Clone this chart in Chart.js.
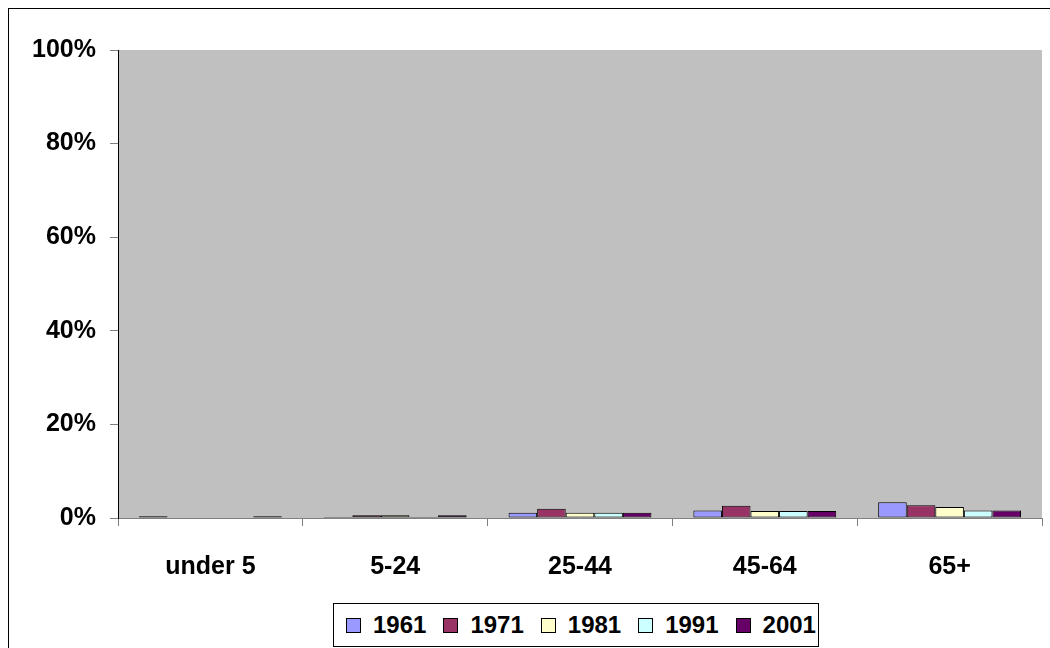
<!DOCTYPE html>
<html lang="en">
  <head>
    <meta charset="UTF-8" />
    <title>Age groups 1961-2001</title>
    <script src="https://cdn.jsdelivr.net/npm/chart.js"></script>
    <style>
      body {
        margin: 0;
        background: white;
        font-family: "Liberation Sans", Arial, sans-serif;
      }
      .wrap {
        position: relative;
        width: 1050px;
        height: 648px;
        overflow: hidden;
      }
      .frame {
        position: absolute;
        left: 8px;
        top: 8px;
        width: 1100px;
        height: 700px;
        border: 1px solid #000;
        pointer-events: none;
      }
      .legend {
        position: absolute;
        left: 333px;
        top: 603px;
        width: 486px;
        height: 44px;
        box-sizing: border-box;
        border: 1px solid #000;
        background: white;
        display: flex;
        align-items: center;
        padding-left: 12px;
        gap: 17px;
        font-weight: bold;
        font-size: 24px;
      }
      .legend-item {
        display: flex;
        align-items: center;
      }
      .legend-color {
        width: 13px;
        height: 13px;
        border: 1px solid #000;
        margin-right: 12px;
      }
    </style>
  </head>
  <body>
    <div class="wrap">
      <canvas id="barChart" width="1050" height="648"></canvas>
      <div class="frame"></div>
      <div class="legend" id="chartLegend"></div>
    </div>

    <script>
      const ageGroups = ["under 5", "5-24", "25-44", "45-64", "65+"];
      const years = ["1961", "1971", "1981", "1991", "2001"];
      const colors = ["#9999FF", "#993366", "#FFFFCC", "#CCFFFF", "#660066"];
      const yTicks = [0, 20, 40, 60, 80, 100];

      // percent per age group, one array per census year
      const v1961 = [0.4, 0.2, 1.1, 1.6, 3.35];
      const v1971 = [0, 0.6, 2.0, 2.6, 2.7];
      const v1981 = [0, 0.6, 1.1, 1.5, 2.35];
      const v1991 = [0, 0.2, 1.1, 1.5, 1.6];
      const v2001 = [0.4, 0.6, 1.1, 1.5, 1.6];
      const series = [v1961, v1971, v1981, v1991, v2001];

      const plotBg = {
        id: "plotBg",
        beforeDraw(chart) {
          const a = chart.chartArea;
          const ctx = chart.ctx;
          ctx.save();
          ctx.fillStyle = "#C0C0C0";
          ctx.fillRect(a.left, a.top, a.right - a.left, a.bottom - a.top);
          ctx.restore();
        },
      };

      const font = { family: "'Liberation Sans', Arial, sans-serif", size: 25, weight: "bold" };

      new Chart(document.getElementById("barChart"), {
        type: "bar",
        data: {
          labels: ageGroups,
          datasets: years.map((y, i) => ({
            label: y,
            data: series[i],
            backgroundColor: colors[i],
            borderColor: "#000",
            borderWidth: 1,
            borderSkipped: false,
            categoryPercentage: 0.773,
            barPercentage: 1,
          })),
        },
        options: {
          responsive: false,
          animation: false,
          layout: { padding: { top: 50, right: 8, bottom: 0, left: 0 } },
          plugins: {
            legend: { display: false },
            tooltip: { enabled: false },
          },
          scales: {
            x: {
              grid: {
                offset: true,
                drawOnChartArea: false,
                tickLength: 8,
                color: "#808080",
              },
              border: { color: "#808080" },
              ticks: { color: "#000", font: font, padding: 26 },
              afterFit(scale) {
                scale.height = 130;
              },
            },
            y: {
              min: 0,
              max: 100,
              afterBuildTicks(scale) {
                scale.ticks = yTicks.map((v) => ({ value: v }));
              },
              grid: {
                drawOnChartArea: false,
                tickLength: 8,
                color: "#808080",
              },
              border: { color: "#000" },
              ticks: {
                color: "#000",
                font: font,
                padding: 14,
                callback: (v) => v + "%",
              },
              afterFit(scale) {
                scale.width = 118;
              },
            },
          },
        },
        plugins: [plotBg],
      });

      const legendContainer = document.getElementById("chartLegend");
      years.forEach((y, i) => {
        const item = document.createElement("div");
        item.classList.add("legend-item");
        item.innerHTML = `<div class="legend-color" style="background-color: ${colors[i]};"></div>${y}`;
        legendContainer.appendChild(item);
      });
    </script>
  </body>
</html>
